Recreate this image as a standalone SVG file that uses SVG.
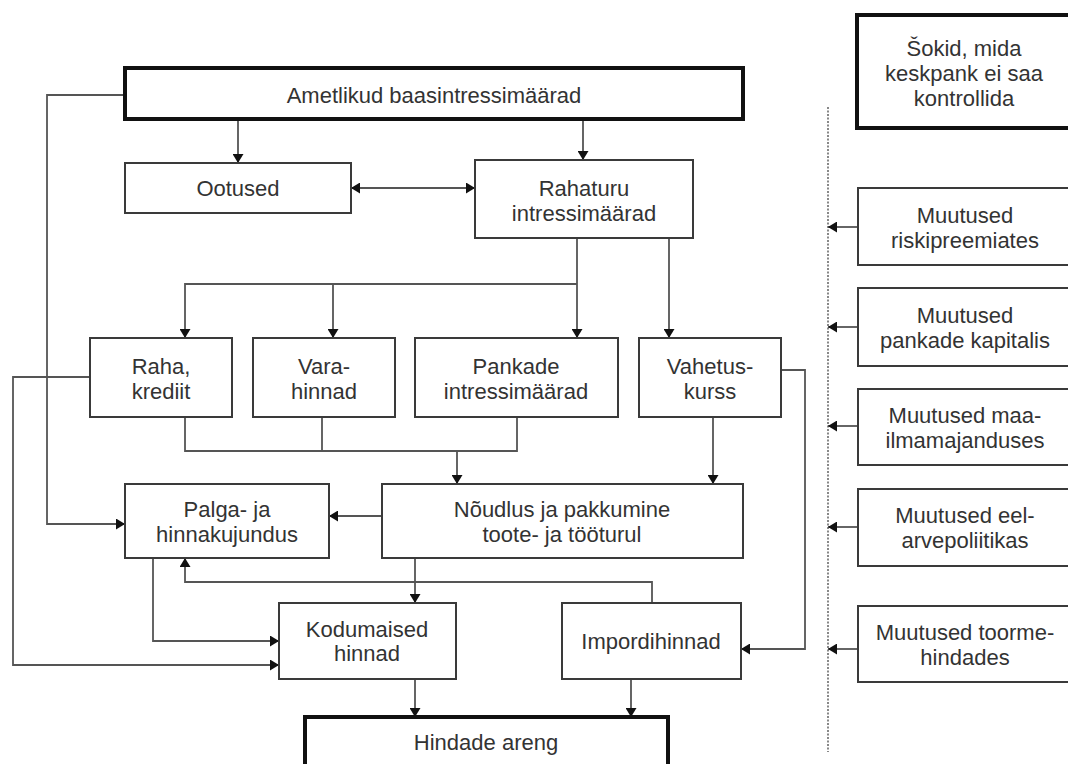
<svg xmlns="http://www.w3.org/2000/svg" width="1068" height="764" viewBox="0 0 1068 764">
<defs>
<style>
.box{fill:#fff;stroke:#3a3a3a;stroke-width:2}
.thick{fill:#fff;stroke:#111;stroke-width:4}
.t{font-family:"Liberation Sans",Arial,sans-serif;font-size:22px;fill:#333;text-anchor:middle}
.c{fill:none;stroke:#555;stroke-width:1.8}
.a{marker-end:url(#ah)}
.dot{fill:none;stroke:#888;stroke-width:2;stroke-dasharray:2 1.5}
</style>
<marker id="ah" markerUnits="userSpaceOnUse" markerWidth="9" markerHeight="11" refX="9" refY="5.5" orient="auto-start-reverse">
<path d="M0,0 L9,5.5 L0,11 z" fill="#111"/>
</marker>
</defs>
<rect width="1068" height="764" fill="#fff"/>

<g id="connectors">
<path class="c a" d="M238,119 V163"/>
<path class="c a" d="M583,119 V160"/>
<path class="c" d="M351,188 H475" marker-start="url(#ah)" marker-end="url(#ah)"/>
<path class="c a" d="M125,95 H47 V524 H125"/>
<path class="c a" d="M577,238 V338"/>
<path class="c a" d="M577,284 H185 V338"/>
<path class="c a" d="M333,284 V338"/>
<path class="c a" d="M669,238 V338"/>
<path class="c" d="M185,417 V451 H517 V417"/>
<path class="c" d="M322,417 V451"/>
<path class="c a" d="M457,451 V484"/>
<path class="c a" d="M713,417 V484"/>
<path class="c a" d="M781,370 H805 V649 H741"/>
<path class="c a" d="M90,377 H13 V665 H279"/>
<path class="c a" d="M382,516 H329"/>
<path class="c a" d="M652,603 V582 H185 V558"/>
<path class="c a" d="M153,558 V641 H279"/>
<path class="c a" d="M415,558 V603"/>
<path class="c a" d="M415,679 V717"/>
<path class="c a" d="M631,679 V717"/>
<path class="dot" d="M828,107 V752"/>
<path class="c a" d="M858,227 H828"/>
<path class="c a" d="M858,327 H828"/>
<path class="c a" d="M858,426 H828"/>
<path class="c a" d="M858,527 H828"/>
<path class="c a" d="M858,649 H828"/>
</g>

<g id="ametlikud"><rect class="thick" x="125" y="68" width="618" height="51"/><text class="t" x="434" y="103">Ametlikud baasintressimäärad</text></g>
<g id="ootused"><rect class="box" x="125" y="163" width="226" height="50"/><text class="t" x="238" y="196">Ootused</text></g>
<g id="rahaturu"><rect class="box" x="475" y="160" width="218" height="78"/><text class="t" x="584" y="196">Rahaturu</text><text class="t" x="584" y="221">intressimäärad</text></g>
<g id="raha"><rect class="box" x="90" y="338" width="142" height="79"/><text class="t" x="161" y="374">Raha,</text><text class="t" x="161" y="399">krediit</text></g>
<g id="vara"><rect class="box" x="253" y="338" width="142" height="79"/><text class="t" x="324" y="374">Vara-</text><text class="t" x="324" y="399">hinnad</text></g>
<g id="pankade"><rect class="box" x="415" y="338" width="203" height="79"/><text class="t" x="516" y="374">Pankade</text><text class="t" x="516" y="399">intressimäärad</text></g>
<g id="vahetus"><rect class="box" x="639" y="338" width="142" height="79"/><text class="t" x="710" y="374">Vahetus-</text><text class="t" x="710" y="399">kurss</text></g>
<g id="palga"><rect class="box" x="125" y="484" width="204" height="74"/><text class="t" x="227" y="517">Palga- ja</text><text class="t" x="227" y="542">hinnakujundus</text></g>
<g id="noudlus"><rect class="box" x="382" y="484" width="361" height="74"/><text class="t" x="562" y="517">Nõudlus ja pakkumine</text><text class="t" x="562" y="542">toote- ja tööturul</text></g>
<g id="kodumaised"><rect class="box" x="279" y="603" width="177" height="76"/><text class="t" x="367" y="637">Kodumaised</text><text class="t" x="367" y="661">hinnad</text></g>
<g id="import"><rect class="box" x="562" y="603" width="179" height="76"/><text class="t" x="651" y="649">Impordihinnad</text></g>
<g id="hindade"><rect class="thick" x="305" y="717" width="363" height="60"/><text class="t" x="486" y="750">Hindade areng</text></g>

<g id="sokid"><rect class="thick" x="857" y="15" width="216" height="113"/><text class="t" x="964" y="56">Šokid, mida</text><text class="t" x="964" y="81">keskpank ei saa</text><text class="t" x="964" y="106">kontrollida</text></g>
<g id="risk"><rect class="box" x="858" y="188" width="216" height="77"/><text class="t" x="965" y="223">Muutused</text><text class="t" x="965" y="248">riskipreemiates</text></g>
<g id="kapital"><rect class="box" x="858" y="288" width="216" height="78"/><text class="t" x="965" y="323">Muutused</text><text class="t" x="965" y="348">pankade kapitalis</text></g>
<g id="maailm"><rect class="box" x="858" y="389" width="216" height="76"/><text class="t" x="965" y="423">Muutused maa-</text><text class="t" x="965" y="448">ilmamajanduses</text></g>
<g id="eelarve"><rect class="box" x="858" y="489" width="216" height="77"/><text class="t" x="965" y="523">Muutused eel-</text><text class="t" x="965" y="548">arvepoliitikas</text></g>
<g id="toorme"><rect class="box" x="858" y="606" width="216" height="76"/><text class="t" x="965" y="640">Muutused toorme-</text><text class="t" x="965" y="665">hindades</text></g>
</svg>
